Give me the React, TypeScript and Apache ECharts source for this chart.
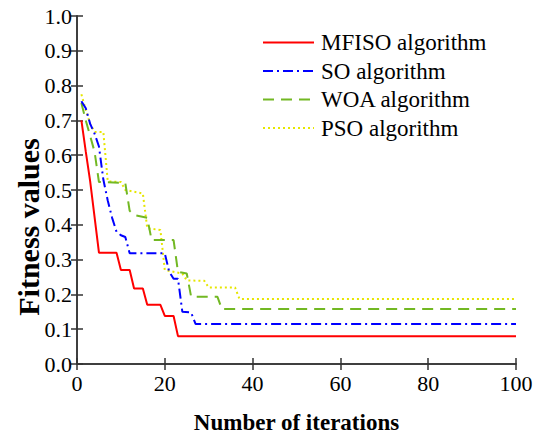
import React, { useEffect, useRef } from "react";
import * as echarts from "echarts";

const seriesNames = ["MFISO algorithm", "SO algorithm", "WOA algorithm", "PSO algorithm"];

const mfiso: number[][] = [
  [1, 0.70], [2, 0.61], [3, 0.525], [5, 0.32], [9, 0.32], [10, 0.27], [12, 0.27],
  [13, 0.217], [15, 0.217], [16, 0.17], [19, 0.17], [20, 0.138], [22, 0.138],
  [23, 0.08], [100, 0.08],
];
const so: number[][] = [
  [1, 0.755], [2, 0.735], [3, 0.69], [4, 0.662], [5, 0.625], [6, 0.53], [7, 0.47],
  [8, 0.42], [9, 0.38], [10, 0.37], [11, 0.365], [12, 0.318], [20, 0.318],
  [21, 0.265], [22, 0.245], [23, 0.245], [24, 0.15], [26, 0.148], [27, 0.115],
  [100, 0.115],
];
const woa: number[][] = [
  [1, 0.75], [2, 0.70], [3, 0.655], [4, 0.61], [5, 0.523], [11, 0.52], [12, 0.44],
  [13, 0.428], [16, 0.42], [17, 0.356], [22, 0.356], [23, 0.265], [25, 0.26],
  [26, 0.193], [32, 0.193], [33, 0.158], [100, 0.158],
];
const pso: number[][] = [
  [1, 0.775], [2, 0.73], [3, 0.69], [4, 0.667], [6, 0.667], [7, 0.525], [10, 0.523],
  [11, 0.50], [15, 0.49], [16, 0.39], [19, 0.385], [20, 0.27], [24, 0.26],
  [25, 0.24], [29, 0.239], [30, 0.22], [36, 0.22], [37, 0.187], [100, 0.187],
];

const xTitle = "Number of iterations";
const yTitle = "Fitness values";

const FONT = "Liberation Serif";

export default function App() {
  const ref = useRef<HTMLDivElement>(null);
  useEffect(() => {
    if (!ref.current) return;
    const chart = echarts.init(ref.current, null, { renderer: "svg" });
    const axisLine = { show: true, lineStyle: { color: "#333", width: 1.5 } };
    const tick = { show: true, inside: true, length: 6, lineStyle: { color: "#333", width: 1.5 } };
    const label = { color: "#000", fontSize: 22, fontFamily: FONT };
    const datas = [mfiso, so, woa, pso];
    const colors = ["#ff0000", "#0000ff", "#72b823", "#e6e600"];
    const types: any[] = ["solid", [10, 4, 2, 4], [11, 7], [2, 3]];
    chart.setOption({
      animation: false,
      backgroundColor: "#fff",
      grid: { left: 77, right: 28, top: 16, bottom: 71, containLabel: false },
      legend: {
        orient: "vertical",
        left: 257,
        top: 26,
        itemWidth: 51,
        itemHeight: 14,
        itemGap: 5.5,
        itemStyle: { opacity: 0 },
        textStyle: { color: "#000", fontSize: 23, fontFamily: FONT, padding: [0, 0, 0, 2] },
        data: seriesNames,
      },
      xAxis: [
        {
          type: "value", min: 0, max: 100, interval: 20,
          axisLine, axisTick: tick, splitLine: { show: false },
          axisLabel: { ...label, margin: 8 },
          name: xTitle, nameLocation: "middle", nameGap: 47,
          nameTextStyle: { color: "#000", fontSize: 23, fontWeight: "bold", fontFamily: FONT },
        },
        {
          type: "value", min: 0, max: 100, interval: 20, position: "top",
          axisLine, axisTick: tick, splitLine: { show: false }, axisLabel: { show: false },
        },
      ],
      yAxis: [
        {
          type: "value", min: 0, max: 1, interval: 0.1,
          axisLine, axisTick: tick, splitLine: { show: false },
          axisLabel: { ...label, margin: 5, formatter: (v: number) => v.toFixed(1) },
        },
        {
          type: "value", min: 0, max: 1, interval: 0.1, position: "right",
          axisLine, axisTick: tick, splitLine: { show: false }, axisLabel: { show: false },
        },
      ],
      graphic: [
        {
          type: "text",
          x: 28,
          y: 227,
          rotation: Math.PI / 2,
          style: {
            text: yTitle,
            fill: "#000",
            font: `bold 30px ${FONT}`,
            align: "center",
            verticalAlign: "middle",
            textAlign: "center",
            textVerticalAlign: "middle",
          },
        },
      ],
      series: datas.map((d, i) => ({
        name: seriesNames[i],
        type: "line",
        data: d,
        symbol: "none",
        lineStyle: { color: colors[i], width: 2, type: types[i] },
        itemStyle: { color: colors[i] },
        z: 10 - i,
      })),
    });
    return () => chart.dispose();
  }, []);
  return <div ref={ref} style={{ position: "fixed", left: 0, top: 0, width: 544, height: 439 }} />;
}
